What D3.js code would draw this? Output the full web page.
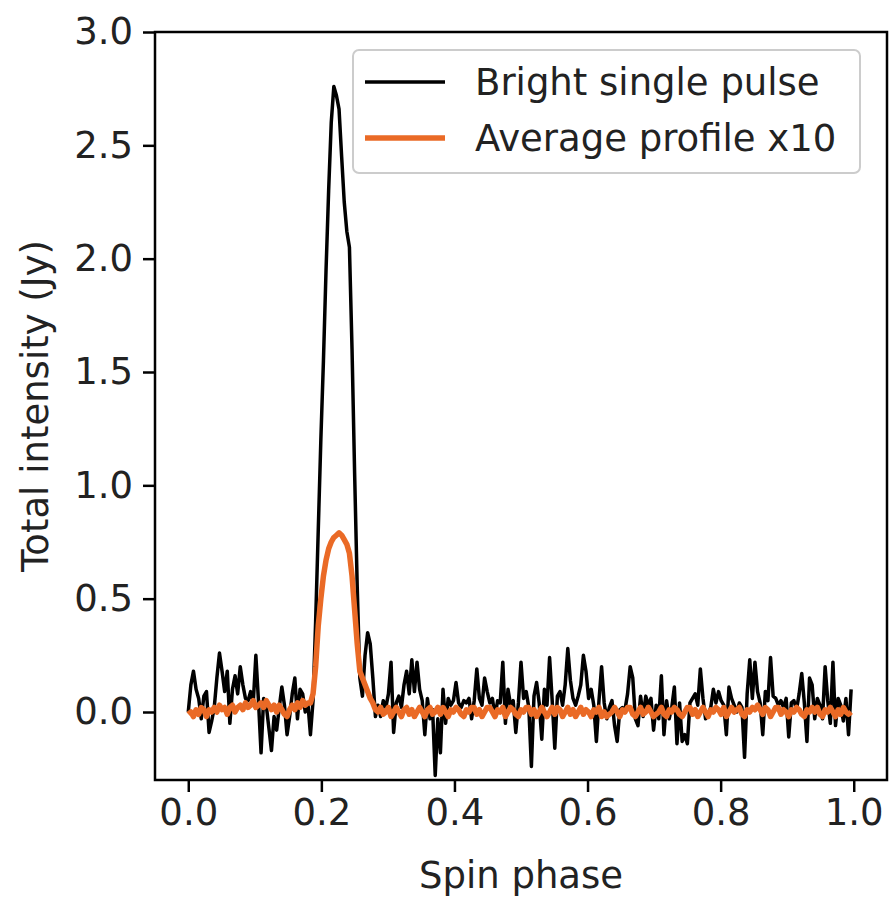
<html>
<head>
<script src="https://d3js.org/d3.v7.min.js"></script>
</head>
<body style="margin:0;background:#fff">
<svg id="pulse" width="890" height="897"></svg>
<style>
    text{font-family: "DejaVu Sans", sans-serif}
</style>
<script>
    // bright single pulse, 256 phase bins (Jy)
    const singlePulse = [
        0.0, 0.12, 0.18, 0.1, 0.06, -0.03, 0.07, 0.09, -0.09, -0.04,
        0.02, 0.15, 0.26, 0.18, 0.09, 0.18, -0.05, 0.1, 0.16, 0.08,
        0.2, 0.12, 0.06, 0.05, 0.09, 0.04, 0.25, 0.05, -0.18, 0.06,
        0.03, -0.07, -0.17, -0.02, -0.08, 0.02, 0.11, 0.03, -0.1, -0.02,
        0.08, 0.15, -0.03, 0.1, 0.08, 0.0, 0.04, -0.1, 0.05, 0.4,
        0.8, 1.2, 1.55, 1.95, 2.3, 2.6, 2.76, 2.72, 2.66, 2.45,
        2.25, 2.12, 2.05, 1.6, 1.05, 0.55, 0.15, 0.07, 0.25, 0.35,
        0.3, 0.15, -0.02, 0.03, -0.02, 0.05, 0.02, 0.08, 0.22, -0.09,
        0.04, 0.07, 0.02, 0.12, 0.18, 0.08, 0.23, 0.09, 0.22, 0.1,
        0.05, -0.1, 0.06, -0.03, 0.01, -0.28, -0.03, -0.18, 0.1, -0.05,
        0.06, 0.03, 0.05, 0.13, 0.04, 0.02, 0.05, 0.04, 0.06, -0.03,
        0.05, 0.19, 0.06, 0.03, 0.15, 0.09, 0.04, 0.06, -0.02, 0.05,
        0.04, 0.22, -0.05, 0.1, 0.03, 0.05, -0.09, 0.04, 0.22, 0.06,
        0.09, 0.02, -0.24, 0.07, 0.13, 0.04, -0.12, 0.1, 0.03, 0.24,
        0.05, -0.16, 0.07, 0.09, 0.03, 0.12, 0.28, 0.14, 0.06, 0.03,
        0.07, 0.12, 0.25, 0.18, 0.06, 0.1, 0.03, -0.13, 0.05, 0.2,
        0.04, -0.03, 0.02, 0.05, -0.06, -0.13, 0.01, 0.02, 0.01, 0.08,
        0.2, 0.15, -0.03, -0.06, 0.07, -0.02, 0.07, 0.03, 0.06, -0.08,
        0.03, -0.03, 0.16, -0.1, 0.05, -0.03, 0.02, 0.11, -0.14, 0.04,
        -0.13, -0.1, -0.14, 0.04, 0.06, 0.08, 0.03, 0.19, 0.06, -0.03,
        -0.01, 0.02, 0.1, 0.04, 0.09, 0.05, 0.03, -0.1, 0.11, 0.06,
        0.03, 0.0, 0.04, 0.02, -0.2, 0.08, 0.23, 0.06, 0.22, 0.09,
        0.04, -0.1, 0.09, 0.05, 0.24, 0.07, 0.06, 0.03, 0.05, 0.02,
        0.06, -0.11, 0.04, 0.05, 0.01, 0.08, 0.17, 0.04, -0.13, 0.15,
        0.12, -0.03, 0.06, 0.03, -0.03, 0.2, 0.05, -0.05, 0.22, -0.06,
        0.06, 0.03, -0.04, 0.06, -0.1, 0.1
    ];

    // average profile scaled x10, same bins
    const avgProfile = [
        -0.01, 0.0, -0.02, 0.01, -0.01, 0.02, 0.01, -0.02, 0.01, 0.0,
        0.02, 0.0, 0.03, 0.01, 0.02, -0.01, 0.02, 0.03, 0.0, 0.02,
        0.03, 0.01, 0.04, 0.02, 0.03, 0.05, 0.02, 0.03, 0.04, 0.02,
        0.05, 0.03, 0.01, 0.03, 0.0, 0.03, 0.01, -0.01, -0.02, 0.01,
        0.03, 0.01, 0.04, 0.02, 0.05, 0.03, 0.04, 0.04, 0.08, 0.2,
        0.38, 0.5, 0.6, 0.67, 0.72, 0.75, 0.77, 0.78, 0.79, 0.78,
        0.76, 0.74, 0.7, 0.6, 0.45, 0.3, 0.18, 0.15, 0.12, 0.09,
        0.06, 0.04, 0.01, 0.0, 0.02, -0.01, 0.0, 0.02, -0.02, 0.0,
        0.02, 0.0, -0.02, 0.01, 0.02, -0.01, 0.01, -0.02, 0.0, 0.02,
        0.0, -0.02, 0.01, 0.02, -0.01, 0.0, 0.02, -0.01, 0.02, 0.0,
        -0.02, 0.01, 0.0, 0.02, 0.01, -0.01, -0.02, 0.01, 0.0, 0.02,
        0.02, -0.01, 0.01, -0.02, 0.0, 0.02, 0.02, 0.0, -0.02, 0.01,
        0.0, 0.02, -0.02, 0.0, 0.02, 0.01, -0.01, -0.02, 0.01, 0.0,
        0.02, 0.02, -0.01, 0.01, -0.02, 0.0, 0.02, 0.0, -0.02, 0.0,
        0.02, -0.01, 0.02, 0.01, -0.02, 0.0, 0.02, -0.01, 0.01, -0.02,
        0.0, 0.02, -0.01, 0.01, 0.0, -0.02, 0.01, 0.0, 0.02, -0.02,
        0.0, -0.02, -0.01, 0.0, 0.02, 0.0, -0.02, 0.01, 0.0, 0.02,
        0.02, -0.01, -0.02, 0.0, 0.02, -0.01, 0.0, 0.02, 0.0, -0.02,
        -0.01, 0.0, 0.02, -0.01, -0.02, 0.01, 0.0, 0.02, 0.01, -0.01,
        -0.02, 0.0, 0.02, 0.02, -0.01, 0.01, -0.02, 0.0, 0.02, 0.0,
        -0.02, 0.01, 0.0, 0.02, 0.01, -0.01, 0.02, -0.02, 0.0, 0.02,
        0.0, 0.01, 0.02, -0.01, -0.02, 0.01, 0.0, 0.02, 0.01, 0.03,
        0.01, -0.01, 0.02, 0.01, -0.02, 0.0, 0.02, 0.02, -0.01, 0.01,
        0.0, -0.02, 0.01, 0.0, 0.02, 0.01, -0.01, -0.02, 0.01, 0.0,
        0.02, 0.0, 0.02, -0.01, -0.02, 0.01, 0.0, 0.02, 0.0, -0.02,
        0.01, -0.01, 0.02, 0.0, -0.01, 0.0
    ];

    const xTicks = [0.0, 0.2, 0.4, 0.6, 0.8, 1.0];
    const yTicks = [0.0, 0.5, 1.0, 1.5, 2.0, 2.5, 3.0];
    const seriesNames = ['Bright single pulse', 'Average profile x10'];
    const seriesColors = ['#000000', '#ea6a26'];

    const nbins = singlePulse.length;
    const phase = d3.range(nbins).map(i => i / nbins);

    let svg = d3.select('svg#pulse');
    const box = {left:155, right:887, top:32, bottom:780};
    const fs = 37;

    let x = d3.scaleLinear().domain([-0.05, 1.05]).range([box.left, box.right]);
    let y = d3.scaleLinear().domain([-0.3, 3.0]).range([box.bottom, box.top]);

    svg.append('clipPath').attr('id', 'plotclip')
        .append('rect')
        .attr('x', box.left).attr('y', box.top)
        .attr('width', box.right - box.left).attr('height', box.bottom - box.top);

    let plot = svg.append('g').attr('clip-path', 'url(#plotclip)');

    const line = d3.line()
        .x((d, i) => x(phase[i]))
        .y(d => y(d));

    plot.append('path')
        .datum(singlePulse)
        .attr('d', line)
        .attr('fill', 'none')
        .attr('stroke', seriesColors[0])
        .attr('stroke-width', 3.5)
        .attr('stroke-linejoin', 'round');

    plot.append('path')
        .datum(avgProfile)
        .attr('d', line)
        .attr('fill', 'none')
        .attr('stroke', seriesColors[1])
        .attr('stroke-width', 5.5)
        .attr('stroke-linejoin', 'round');

    // axes
    const xAxis = d3.axisBottom(x).tickValues(xTicks).tickFormat(d3.format('.1f'))
        .tickSizeInner(12).tickSizeOuter(0).tickPadding(7);
    const yAxis = d3.axisLeft(y).tickValues(yTicks).tickFormat(d3.format('.1f'))
        .tickSizeInner(12).tickSizeOuter(0).tickPadding(10);

    let gx = svg.append('g').attr('transform', `translate(0,${box.bottom})`).call(xAxis);
    let gy = svg.append('g').attr('transform', `translate(${box.left},0)`).call(yAxis);

    [gx, gy].forEach(g => {
        g.select('path.domain').remove();
        g.selectAll('line').attr('stroke', '#000').attr('stroke-width', 2.5);
        g.selectAll('text').attr('font-size', fs).attr('fill', '#222');
    });

    // frame
    svg.append('rect')
        .attr('x', box.left).attr('y', box.top)
        .attr('width', box.right - box.left).attr('height', box.bottom - box.top)
        .attr('fill', 'none').attr('stroke', '#000').attr('stroke-width', 2.5);

    svg.append('text')
        .text('Spin phase')
        .attr('x', (box.left + box.right) / 2)
        .attr('y', 888)
        .attr('text-anchor', 'middle')
        .attr('font-size', fs)
        .attr('fill', '#222');

    svg.append('text')
        .text('Total intensity (Jy)')
        .attr('transform', `translate(48,${(box.top + box.bottom) / 2}) rotate(-90)`)
        .attr('text-anchor', 'middle')
        .attr('font-size', fs)
        .attr('fill', '#222');

    // legend
    let legend = svg.append('g');
    legend.append('rect')
        .attr('x', 353).attr('y', 50)
        .attr('width', 507).attr('height', 123)
        .attr('rx', 6)
        .attr('fill', 'white').attr('fill-opacity', 0.8)
        .attr('stroke', '#cccccc').attr('stroke-width', 2);

    legend.selectAll('line.key')
        .data(seriesNames)
        .join('line')
        .attr('class', 'key')
        .attr('x1', 365).attr('x2', 445)
        .attr('y1', (d, i) => 82 + i * 56)
        .attr('y2', (d, i) => 82 + i * 56)
        .attr('stroke', (d, i) => seriesColors[i])
        .attr('stroke-width', (d, i) => i == 0 ? 3.5 : 5.5);

    legend.selectAll('text.key')
        .data(seriesNames)
        .join('text')
        .attr('class', 'key')
        .attr('x', 475)
        .attr('y', (d, i) => 82 + i * 56)
        .attr('dy', '0.35em')
        .text(d => d)
        .attr('font-size', fs)
        .attr('fill', '#222');
</script>
</body>
</html>
